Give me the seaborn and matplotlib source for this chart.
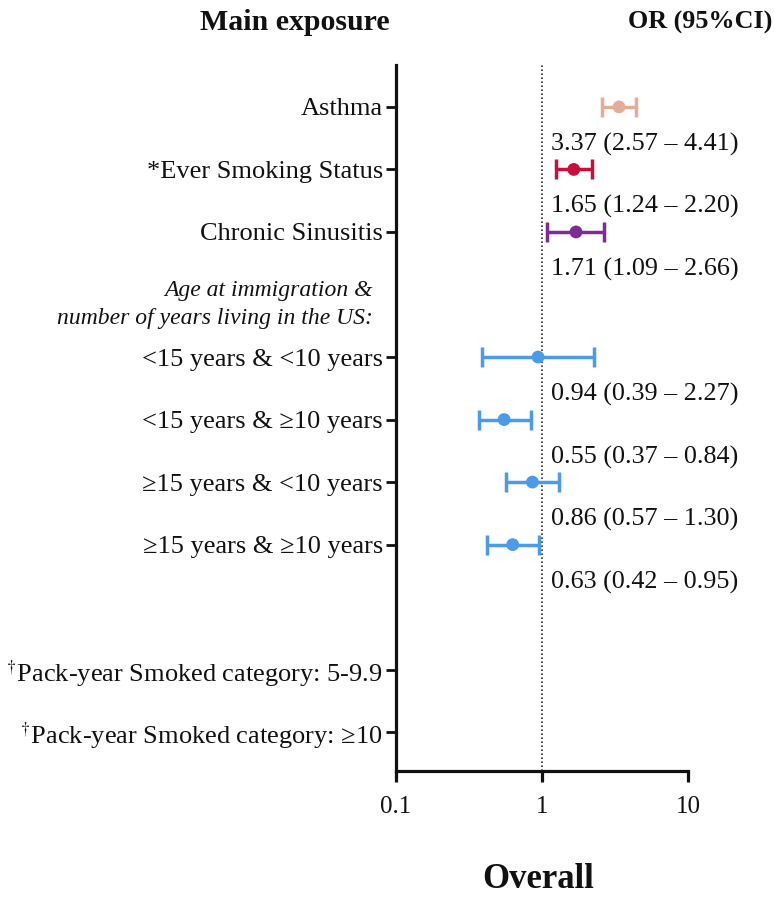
import numpy as np
import pandas as pd
import matplotlib
matplotlib.use("Agg")
import matplotlib.pyplot as plt
import matplotlib.transforms as mtransforms
import seaborn as sns

# Exposures with an estimate (odds ratio and 95% CI)
exposures = [
    "Asthma",
    "*Ever Smoking Status",
    "Chronic Sinusitis",
    "<15 years & <10 years",
    "<15 years & \u226510 years",
    "\u226515 years & <10 years",
    "\u226515 years & \u226510 years",
]
odds_ratio = [3.37, 1.65, 1.71, 0.94, 0.55, 0.86, 0.63]
ci_low = [2.57, 1.24, 1.09, 0.39, 0.37, 0.57, 0.42]
ci_high = [4.41, 2.20, 2.66, 2.27, 0.84, 1.30, 0.95]
groups = ["asthma", "smoking", "sinusitis", "age", "age", "age", "age"]

# Rows without an estimate
empty_rows = [
    r"$^{\dagger}$Pack-year Smoked category: 5-9.9",
    r"$^{\dagger}$Pack-year Smoked category: " + "\u226510",
]
age_header = "Age at immigration &\nnumber of years living in the US:"

x_ticks = [0.1, 1, 10]
x_tick_labels = ["0.1", "1", "10"]

palette = {
    "asthma": "#E2AE9A",
    "smoking": "#C8103C",
    "sinusitis": "#7E2B94",
    "age": "#4C9BE8",
}

sns.set_theme(style="white")
plt.rcParams["font.family"] = ["Liberation Serif", "DejaVu Serif"]
plt.rcParams["mathtext.fontset"] = "stix"

# row layout: three exposures, a header slot, four age rows, a gap, two pack-year rows
rows = [1, 2, 3, 5, 6, 7, 8]
empty_pos = [10, 11]

df = pd.DataFrame({
    "exposure": exposures,
    "or": odds_ratio,
    "lo": ci_low,
    "hi": ci_high,
    "group": groups,
    "row": rows,
})

ink = "#111111"

fig = plt.figure(figsize=(7.75, 8.98), dpi=100)
ax = fig.add_axes([396 / 775, (898 - 771) / 898, 292 / 775, 706 / 898])

ax.axvline(1, color="#333333", lw=1.2, ls=(0, (1, 1.4)), zorder=1)

for _, r in df.iterrows():
    c = palette[r["group"]]
    ax.errorbar(
        r["or"], r["row"],
        xerr=[[r["or"] - r["lo"]], [r["hi"] - r["or"]]],
        fmt="none", ecolor=c, elinewidth=2.5, capsize=7, capthick=2.5, zorder=2,
    )

sns.scatterplot(
    data=df, x="or", y="row", hue="group", palette=palette,
    s=85, edgecolor="none", legend=False, ax=ax, zorder=3,
)

# OR (95% CI) text under each estimate
text_tr = mtransforms.blended_transform_factory(ax.transAxes, ax.transData)
for _, r in df.iterrows():
    ax.text(
        0.531, r["row"] + 0.6,
        f"{r['or']:.2f} ({r['lo']:.2f} \u2013 {r['hi']:.2f})",
        transform=text_tr, ha="left", va="center", fontsize=18.8, color=ink,
    )

ax.set_xscale("log")
ax.set_xlim(0.1, 10)
ax.set_ylim(11.62, 0.33)
ax.set_xticks(x_ticks)
ax.set_xticklabels(x_tick_labels)
ax.xaxis.set_minor_locator(matplotlib.ticker.NullLocator())

ax.set_yticks(rows + empty_pos)
ax.set_yticklabels(exposures + empty_rows)
ax.set_xlabel("")
ax.set_ylabel("")

for side in ["top", "right"]:
    ax.spines[side].set_visible(False)
for side in ["left", "bottom"]:
    ax.spines[side].set_linewidth(2.3)
    ax.spines[side].set_color(ink)

ax.tick_params(axis="y", direction="out", length=7.5, width=2, color=ink,
               labelsize=19, pad=2, left=True)
ax.tick_params(axis="x", direction="out", length=8, width=2.3, color=ink,
               labelsize=18, pad=10, bottom=True)
for lab in ax.get_yticklabels() + ax.get_xticklabels():
    lab.set_color(ink)

ax.text(-0.079, 4.16, age_header, transform=text_tr, ha="right", va="center",
        fontsize=17, style="italic", color=ink, linespacing=1.45)

fig.text(295 / 775, 1 - 22 / 898, "Main exposure", ha="center", va="center",
         fontsize=21.5, fontweight="bold", color=ink)
fig.text(700 / 775, 1 - 22 / 898, "OR (95%CI)", ha="center", va="center",
         fontsize=18.8, fontweight="bold", color=ink)
fig.text(538 / 775, 1 - 880 / 898, "Overall", ha="center", va="center",
         fontsize=25, fontweight="bold", color=ink)

fig.savefig("out.png", dpi=100, facecolor="white")
